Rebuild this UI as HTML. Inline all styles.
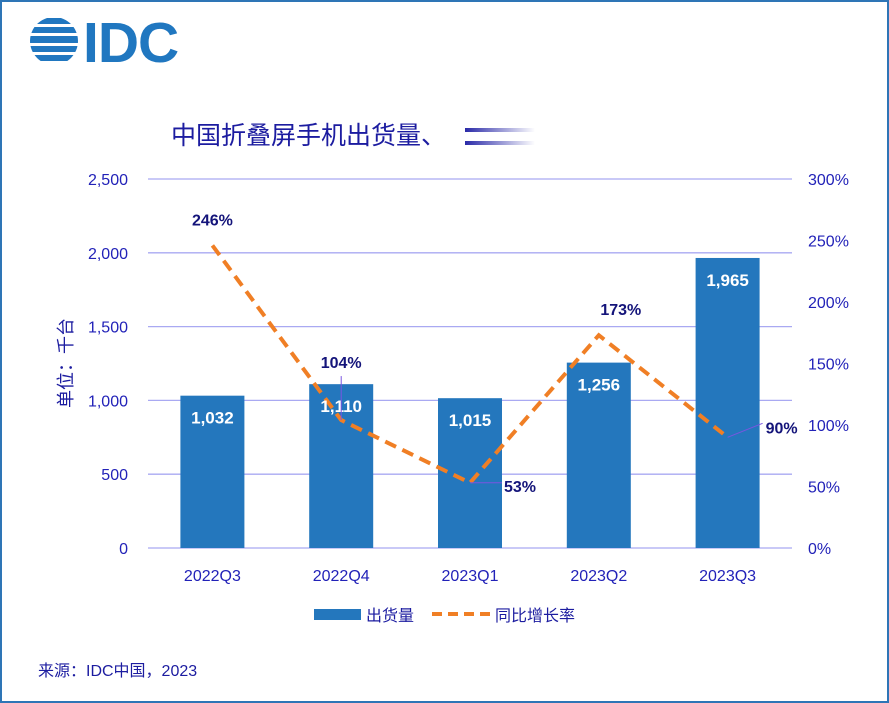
<!DOCTYPE html>
<html><head><meta charset="utf-8">
<style>
body{margin:0;background:#fff;}
#wrap{position:relative;width:889px;height:703px;overflow:hidden;font-family:"Liberation Sans","Noto Sans CJK SC",sans-serif;}
</style></head>
<body>
<div id="wrap">
<svg id="svg" width="889" height="703" xmlns="http://www.w3.org/2000/svg">
<defs>
<linearGradient id="fade" x1="0" x2="1" y1="0" y2="0">
<stop offset="0" stop-color="#2a2aa8"/><stop offset="1" stop-color="#2a2aa8" stop-opacity="0"/>
</linearGradient>
<clipPath id="globe"><circle cx="54" cy="41" r="24"/></clipPath>
</defs>
<rect x="1" y="1" width="887" height="701" fill="#fff" stroke="#2e75b6" stroke-width="2"/>
<g>
<g clip-path="url(#globe)">
<rect x="28" y="18" width="52" height="6" fill="#2077c0"/>
<rect x="28" y="27" width="52" height="6" fill="#2077c0"/>
<rect x="28" y="36" width="52" height="7" fill="#2077c0"/>
<rect x="28" y="46" width="52" height="6" fill="#2077c0"/>
<rect x="28" y="55" width="52" height="6" fill="#2077c0"/>
</g>
<text x="83" y="62" font-size="57" font-weight="bold" fill="#2077c0" font-family="Liberation Sans, sans-serif" letter-spacing="-1">IDC</text>
</g>
<text x="171" y="144" font-size="25" fill="#1c1ca0">中国折叠屏手机出货量、</text>
<rect x="465" y="128" width="70" height="4" fill="url(#fade)"/>
<rect x="465" y="141" width="70" height="4" fill="url(#fade)"/>
<g id="grid"></g><g id="bars"></g><g id="line"></g><g id="labels"></g>
<text transform="translate(72,363) rotate(-90)" text-anchor="middle" font-size="18" fill="#1c1ca0">单位：千台</text>
<g>
<rect x="314" y="609" width="47" height="11" fill="#2477bd"/>
<text x="366" y="621" font-size="16" fill="#1c1ca0">出货量</text>
<line x1="432" y1="614" x2="490" y2="614" stroke="#f07f25" stroke-width="4" stroke-dasharray="10,6"/>
<text x="495" y="621" font-size="16" fill="#1c1ca0">同比增长率</text>
</g>
<text x="38" y="676" font-size="16" fill="#1c1ca0">来源：IDC中国，2023</text>
</svg>
</div>
<script>
const categories=["2022Q3","2022Q4","2023Q1","2023Q2","2023Q3"];
const shipments=[1032,1110,1015,1256,1965];
const growth=[246,104,53,173,90];
const leftTicks=[0,500,1000,1500,2000,2500];
const rightTicks=[0,50,100,150,200,250,300];
const NS="http://www.w3.org/2000/svg";
const X0=148,X1=792,Y0=548,Y1=179;
const yL=v=>Y0-(v/2500)*(Y0-Y1);
const yR=v=>Y0-(v/300)*(Y0-Y1);
const band=(X1-X0)/categories.length;
const xC=i=>X0+band*(i+0.5);
function mk(t,a,p){const e=document.createElementNS(NS,t);for(const k in a)e.setAttribute(k,a[k]);document.getElementById(p).appendChild(e);return e;}
const fmt=v=>v.toLocaleString("en-US");
leftTicks.forEach(v=>{
 const l=mk("line",{x1:X0,x2:X1,y1:yL(v),y2:yL(v),stroke:"#a9a9f2","stroke-width":1.3},"grid");
 
 
 const t=mk("text",{x:128,y:yL(v)+6,"text-anchor":"end","font-size":16,fill:"#2222b8"},"grid");
 t.textContent=fmt(v);
 
 
});
rightTicks.forEach(v=>{
 const t=mk("text",{x:808,y:yR(v)+6,"font-size":16,fill:"#2222b8"},"grid");
 t.textContent=v+"%";
 
 
});
categories.forEach((c,i)=>{
 const t=mk("text",{x:xC(i),y:581,"text-anchor":"middle","font-size":16,fill:"#2222b8"},"grid");
 t.textContent=c;
 
 
 const bw=64;
 const r=mk("rect",{x:xC(i)-bw/2,y:yL(shipments[i]),width:bw,height:Y0-yL(shipments[i]),fill:"#2477bd"},"bars");
 
 
});
const pts=growth.map((g,i)=>xC(i)+","+yR(g)).join(" ");
const pl=mk("polyline",{points:pts,fill:"none",stroke:"#f07f25","stroke-width":4,"stroke-dasharray":"12,7"},"line");


categories.forEach((c,i)=>{
 const ty=yL(shipments[i])+28;
 const t=mk("text",{x:xC(i),y:ty,"text-anchor":"middle","font-size":17,"font-weight":"bold",fill:"#fff"},"labels");
 t.textContent=fmt(shipments[i]);
 
 
});
const off=[[0,-20,"middle"],[0,-52,"middle"],[34,9,"start"],[22,-20,"middle"],[38,-4,"start"]];
growth.forEach((g,i)=>{
 const px=xC(i),py=yR(g),o=off[i];
 if(i===1){const l=mk("line",{x1:px,y1:py,x2:px,y2:py-44,stroke:"#7a55e0","stroke-width":1},"labels");}
 if(i===2){const l=mk("line",{x1:px,y1:py,x2:px+32,y2:py,stroke:"#7a55e0","stroke-width":1},"labels");}
 if(i===4){const l=mk("line",{x1:px,y1:py,x2:px+35,y2:py-14,stroke:"#7a55e0","stroke-width":1},"labels");}
 const t=mk("text",{x:px+o[0],y:py+o[1],"text-anchor":o[2],"font-size":16,"font-weight":"bold",fill:"#14147a"},"labels");
 t.textContent=g+"%";
 
 
});
</script>
</body></html>
